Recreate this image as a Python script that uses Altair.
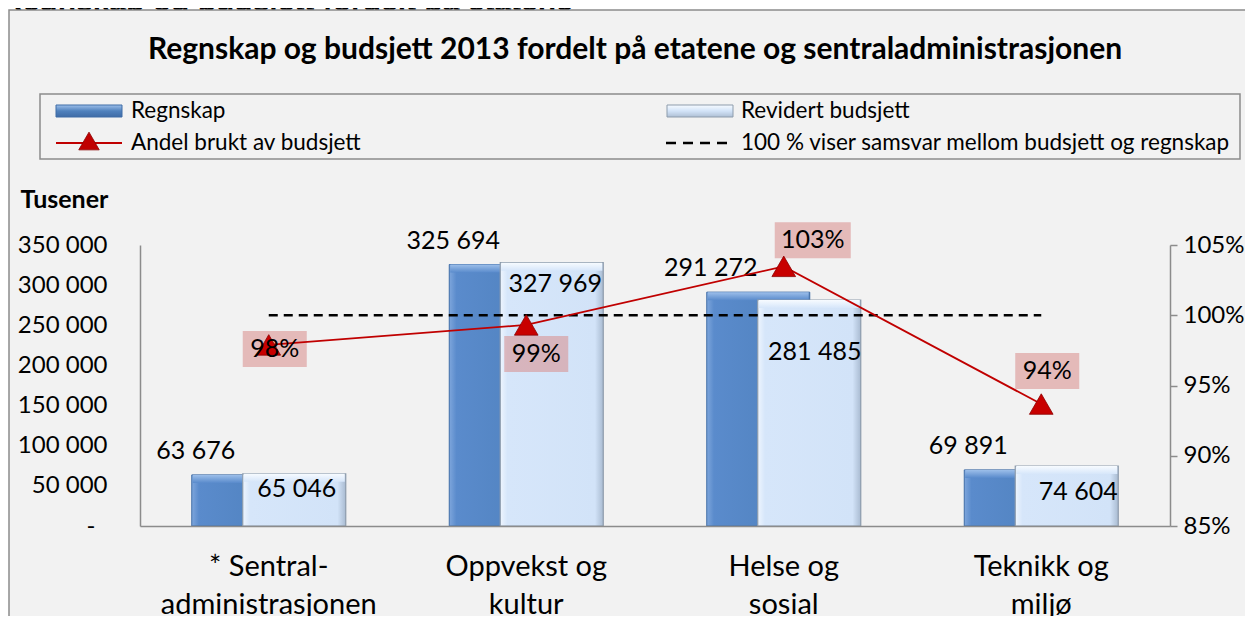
import altair as alt
import pandas as pd

# ---------------- data ----------------
categories = ["* Sentral-\nadministrasjonen", "Oppvekst og\nkultur", "Helse og\nsosial", "Teknikk og\nmiljø"]
regnskap = [63676, 325694, 291272, 69891]
revidert = [65046, 327969, 281485, 74604]
andel = [0.9789, 0.9931, 1.0348, 0.9368]
target = [1.0, 1.0, 1.0, 1.0]

# label placement offsets (pixels)
rev_dx = [28, 29, 31, 37]
rev_dy = [15, 21, 52, 26]
pct_dx = [6, 10, 29, 6]
pct_dy = [4, 29, -26, -33]

left_ticks = [0, 50000, 100000, 150000, 200000, 250000, 300000, 350000]
right_ticks = [0.85, 0.90, 0.95, 1.00, 1.05]

df = pd.DataFrame({
    "cat": categories, "regnskap": regnskap, "revidert": revidert,
    "andel": andel, "target": target,
})
one = pd.DataFrame({"k": [0]})

FONT = "Lato"
GRAY = "#8c8c8c"

blue_grad = alt.Gradient(gradient="linear", x1=0, x2=1, y1=0, y2=0, stops=[
    alt.GradientStop(color="#7ea6dc", offset=0),
    alt.GradientStop(color="#5a8bcc", offset=0.07),
    alt.GradientStop(color="#4f81bd", offset=0.9),
    alt.GradientStop(color="#3f6ca6", offset=1)])
light_grad = alt.Gradient(gradient="linear", x1=0, x2=1, y1=0, y2=0, stops=[
    alt.GradientStop(color="#eef5fe", offset=0),
    alt.GradientStop(color="#d6e6fa", offset=0.07),
    alt.GradientStop(color="#d2e3f8", offset=0.92),
    alt.GradientStop(color="#a9bbd1", offset=1)])
blue_top = alt.Gradient(gradient="linear", x1=0, x2=0, y1=0, y2=1, stops=[
    alt.GradientStop(color="#9dbfea", offset=0),
    alt.GradientStop(color="#5a8bcc", offset=1)])
light_top = alt.Gradient(gradient="linear", x1=0, x2=0, y1=0, y2=1, stops=[
    alt.GradientStop(color="#f7fbff", offset=0),
    alt.GradientStop(color="#d6e6fa", offset=1)])
legend_blue = alt.Gradient(gradient="linear", x1=0, x2=0, y1=0, y2=1, stops=[
    alt.GradientStop(color="#9dbfea", offset=0),
    alt.GradientStop(color="#4f81bd", offset=0.5),
    alt.GradientStop(color="#3f6ca6", offset=1)])
legend_light = alt.Gradient(gradient="linear", x1=0, x2=0, y1=0, y2=1, stops=[
    alt.GradientStop(color="#f7fbff", offset=0),
    alt.GradientStop(color="#d2e3f8", offset=0.5),
    alt.GradientStop(color="#aebfd4", offset=1)])

x_enc = alt.X("cat:N", sort=categories,
              scale=alt.Scale(paddingInner=0, paddingOuter=0),
              axis=alt.Axis(title=None, labelExpr="split(datum.label, '\\n')",
                            labelAngle=0, labelFont=FONT, labelFontSize=29,
                            labelColor="black", labelPadding=26, labelLineHeight=38,
                            labelLimit=400, ticks=False, domainColor=GRAY,
                            domainWidth=1.5, zindex=2))

left_scale = alt.Scale(domain=[0, 350000], nice=False, zero=True)
left_axis = alt.Axis(title="Tusener", titleAngle=0, titleX=-120, titleY=-46,
                     titleAlign="left", titleBaseline="middle", titleFont=FONT,
                     titleFontSize=25, titleFontWeight="bold", titleColor="black",
                     values=left_ticks,
                     labelExpr="datum.value == 0 ? '-' : replace(format(datum.value, ','), ',', ' ')",
                     labelFont=FONT, labelFontSize=24, labelColor="black",
                     labelPadding={"condition": {"test": "datum.value == 0", "value": 45}, "value": 33},
                     ticks=False, grid=False,
                     domainColor=GRAY, domainWidth=1.5, zindex=2)
right_scale = alt.Scale(domain=[0.85, 1.05], nice=False, zero=False)
right_axis = alt.Axis(orient="right", title=None, values=right_ticks, format=".0%",
                      labelFont=FONT, labelFontSize=24, labelColor="black",
                      labelPadding=6, tickSize=7, tickColor=GRAY, tickWidth=1.5,
                      grid=False, domainColor=GRAY, domainWidth=1.5, zindex=2)

yl = lambda f: alt.Y(f, scale=left_scale, axis=left_axis)
yr = lambda f: alt.Y(f, scale=right_scale, axis=right_axis)

# ---------------- decorations ----------------
cut_title = alt.Chart(one).mark_text(font="Liberation Sans", fontWeight="bold", fontSize=30,
                                     align="left", baseline="alphabetic", color="black").encode(
    x=alt.value(-139), y=alt.value(-234), text=alt.value("Regnskap og budsjett fordelt på etatene"))
frame = alt.Chart(one).mark_rect(fill="#f2f2f2", stroke=GRAY, strokeWidth=1.5).encode(
    x=alt.value(-131), x2=alt.value(1300), y=alt.value(-235), y2=alt.value(600))
title = alt.Chart(one).mark_text(font=FONT, fontWeight="bold", fontSize=30,
                                 align="center", baseline="middle", color="black").encode(
    x=alt.value(495), y=alt.value(-195),
    text=alt.value("Regnskap og budsjett 2013 fordelt på etatene og sentraladministrasjonen"))
leg_box = alt.Chart(one).mark_rect(fill="#f2f2f2", stroke=GRAY, strokeWidth=1.5).encode(
    x=alt.value(-100), x2=alt.value(1100), y=alt.value(-151), y2=alt.value(-86))
leg_sw1 = alt.Chart(one).mark_rect(fill=legend_blue, stroke="#3f6ca6", strokeWidth=1).encode(
    x=alt.value(-84), x2=alt.value(-18), y=alt.value(-140), y2=alt.value(-128))
leg_sw2 = alt.Chart(one).mark_rect(fill=legend_light, stroke="#8d9cac", strokeWidth=1).encode(
    x=alt.value(527), x2=alt.value(593), y=alt.value(-140), y2=alt.value(-128))
leg_red = alt.Chart(one).mark_rule(color="#c00000", strokeWidth=1.8).encode(
    x=alt.value(-84), x2=alt.value(-18), y=alt.value(-102))
leg_tri = alt.Chart(one).mark_point(shape="triangle-up", size=420, filled=True, fill="#c00000",
                                    stroke="#8b0000", strokeWidth=0.8, opacity=1).encode(
    x=alt.value(-51), y=alt.value(-104))
leg_dash = alt.Chart(one).mark_rule(color="black", strokeWidth=2.5, strokeDash=[10, 7]).encode(
    x=alt.value(526), x2=alt.value(593), y=alt.value(-102))
leg_text_opts = dict(font=FONT, fontSize=22.5, align="left", baseline="middle", color="black")
leg_t1 = alt.Chart(one).mark_text(**leg_text_opts).encode(
    x=alt.value(-9), y=alt.value(-134), text=alt.value("Regnskap"))
leg_t2 = alt.Chart(one).mark_text(**leg_text_opts).encode(
    x=alt.value(601), y=alt.value(-134), text=alt.value("Revidert budsjett"))
leg_t3 = alt.Chart(one).mark_text(**leg_text_opts).encode(
    x=alt.value(-9), y=alt.value(-102), text=alt.value("Andel brukt av budsjett"))
leg_t4 = alt.Chart(one).mark_text(**leg_text_opts).encode(
    x=alt.value(601), y=alt.value(-102), text=alt.value("100 % viser samsvar mellom budsjett og regnskap"))

# ---------------- bars (left axis) ----------------
base = alt.Chart(df)
bar_blue = base.mark_bar(width=103, xOffset=-25.5, fill=blue_grad, stroke="#3f6ca6",
                         strokeWidth=1).encode(x=x_enc, y=yl("regnskap:Q"))
bar_blue_top = base.mark_bar(width=101, xOffset=-25.5, fill=blue_top, y2Offset=8).encode(
    x=x_enc, y=yl("regnskap:Q"), y2="regnskap:Q")
bar_light = base.mark_bar(width=103, xOffset=25.5, fill=light_grad, stroke="#8d9cac",
                          strokeWidth=1.2).encode(x=x_enc, y=yl("revidert:Q"))
bar_light_top = base.mark_bar(width=101, xOffset=25.5, fill=light_top, y2Offset=8).encode(
    x=x_enc, y=yl("revidert:Q"), y2="revidert:Q")
reg_lbl = base.transform_calculate(
    lbl="replace(format(datum.regnskap, ','), ',', ' ')"
).mark_text(font=FONT, fontSize=25, dx=-73, dy=-24, baseline="middle", color="black").encode(
    x=x_enc, y=yl("regnskap:Q"), text="lbl:N")

rev_lbls = []
for i, c in enumerate(categories):
    rev_lbls.append(
        base.transform_filter(alt.datum.cat == c).transform_calculate(
            lbl="replace(format(datum.revidert, ','), ',', ' ')"
        ).mark_text(font=FONT, fontSize=25, baseline="middle", color="black",
                    xOffset=rev_dx[i], yOffset=rev_dy[i]).encode(
            x=x_enc, y=yl("revidert:Q"), text="lbl:N"))

left = alt.layer(cut_title, frame, title, leg_box, leg_sw1, leg_sw2, leg_red, leg_tri, leg_dash,
                 leg_t1, leg_t2, leg_t3, leg_t4,
                 bar_blue, bar_blue_top, bar_light, bar_light_top, reg_lbl, *rev_lbls)

# ---------------- percentage (right axis) ----------------
dash = base.mark_line(color="black", strokeDash=[9, 6], strokeWidth=2.5).encode(
    x=x_enc, y=yr("target:Q"))
pct_base = base.transform_calculate(
    lbl="format(datum.andel, '.0%')",
    bw="length(format(datum.andel, '.0%')) * 12 + 28"
).transform_calculate(
    bsize="datum.bw * datum.bw",
    bshape="'M-1,' + (-36 / datum.bw) + 'L1,' + (-36 / datum.bw) + 'L1,' + (36 / datum.bw) + 'L-1,' + (36 / datum.bw) + 'Z'"
)
boxes = []
texts = []
for i, c in enumerate(categories):
    sub = pct_base.transform_filter(alt.datum.cat == c)
    boxes.append(sub.mark_point(filled=True, fill="#d98c8b", opacity=0.55, strokeWidth=0,
                                xOffset=pct_dx[i], yOffset=pct_dy[i]).encode(
        x=x_enc, y=yr("andel:Q"),
        shape=alt.Shape("bshape:N", scale=None), size=alt.Size("bsize:Q", scale=None)))
    texts.append(sub.mark_text(font=FONT, fontSize=25, baseline="middle", color="black",
                               xOffset=pct_dx[i], yOffset=pct_dy[i]).encode(
        x=x_enc, y=yr("andel:Q"), text="lbl:N"))
red_line = base.mark_line(color="#c00000", strokeWidth=1.8).encode(x=x_enc, y=yr("andel:Q"))
tris = base.mark_point(shape="triangle-up", size=560, filled=True, fill="#c80000",
                       stroke="#8b0000", strokeWidth=0.8, opacity=1).encode(
    x=x_enc, y=yr("andel:Q"))

right = alt.layer(dash, *boxes, red_line, tris, *texts)

chart = alt.layer(left, right).resolve_scale(y="independent").properties(
    width=1030, height=281,
    padding={"left": 132, "top": 237, "right": 75, "bottom": 90},
    autosize=alt.AutoSizeParams(type="none"),
    background="white",
).configure_view(stroke=None)

chart.save("out.html", embed_options={"renderer": "svg", "actions": False})
